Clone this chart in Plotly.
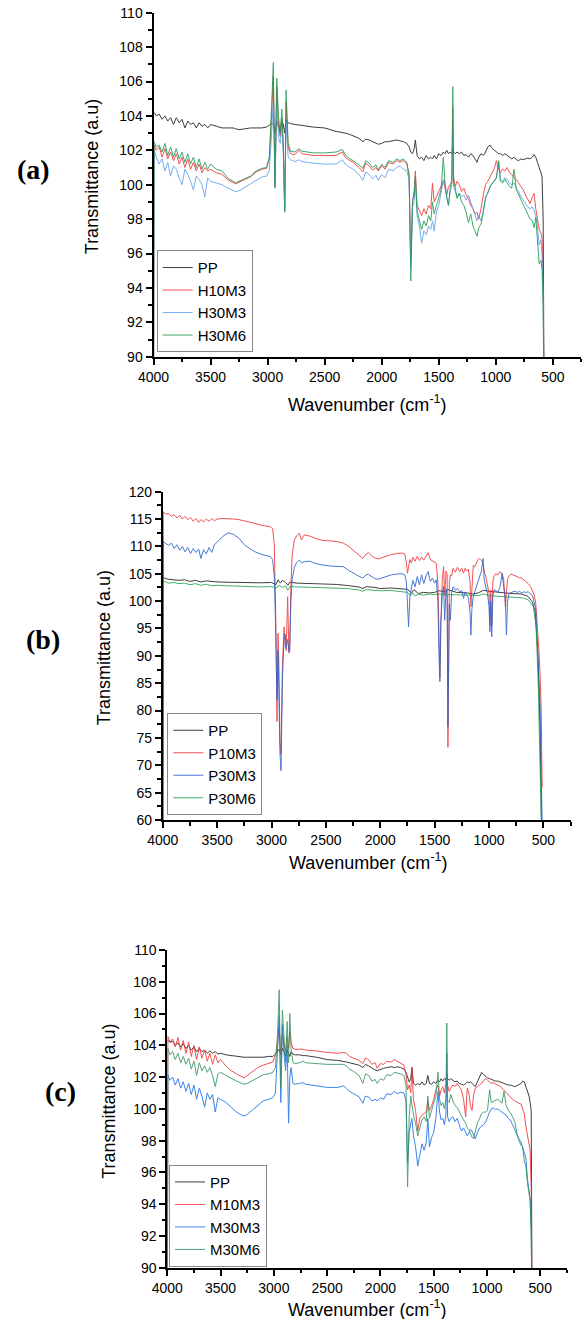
import plotly.graph_objects as go

W, H = 583, 1319

# ---------------- Panel (a) data ----------------
wn_a = [4000, 3995, 3975, 3950, 3925, 3900, 3875, 3850, 3825, 3800,
        3775, 3750, 3725, 3700, 3675, 3650, 3625, 3600, 3575, 3550,
        3525, 3500, 3450, 3400, 3350, 3300, 3280, 3250, 3200, 3150,
        3100, 3050, 3010, 2985, 2965, 2950, 2935, 2920, 2905, 2890,
        2875, 2862, 2850, 2838, 2820, 2800, 2760, 2725, 2700, 2600,
        2500, 2400, 2345, 2320, 2290, 2250, 2200, 2165, 2140, 2110,
        2080, 2050, 2030, 2000, 1970, 1940, 1900, 1870, 1840, 1810,
        1780, 1760, 1745, 1730, 1715, 1705, 1690, 1670, 1650, 1630,
        1610, 1590, 1570, 1555, 1540, 1520, 1500, 1480, 1460, 1445,
        1430, 1415, 1400, 1385, 1377, 1370, 1355, 1340, 1320, 1300,
        1280, 1260, 1240, 1220, 1200, 1180, 1165, 1150, 1130, 1110,
        1090, 1070, 1050, 1030, 1010, 995, 975, 960, 940, 920,
        900, 880, 860, 840, 820, 800, 780, 760, 740, 720,
        700, 680, 665, 650, 635, 620, 605, 595, 585, 575]

pp_a = [104.2, 104.2, 104.0, 104.1, 103.8, 104.0, 103.7, 103.9, 103.5, 103.9,
        103.6, 103.8, 103.3, 103.7, 103.5, 103.6, 103.3, 103.6, 103.4, 103.5,
        103.3, 103.5, 103.4, 103.3, 103.3, 103.3, 103.25, 103.2, 103.25, 103.3,
        103.3, 103.3, 103.35, 103.45, 103.6, 103.5, 103.0, 103.7, 103.4, 103.1,
        103.7, 103.5, 103.0, 103.8, 103.6, 103.55, 103.5, 103.45, 103.45, 103.35,
        103.3, 103.1, 103.05, 103.0, 102.95, 102.85, 102.7, 102.5, 102.65, 102.6,
        102.5, 102.4, 102.35, 102.4, 102.5, 102.5, 102.55, 102.6, 102.55, 102.5,
        102.4, 102.2, 101.9, 101.8, 102.1, 102.6, 101.7, 101.5, 101.6, 101.4,
        101.7, 101.5, 101.6, 101.5, 101.7, 101.5, 101.8, 101.7, 101.9, 101.8,
        102.0, 101.8, 101.9, 101.8, 102.3, 101.9, 101.8, 101.9, 101.8, 101.9,
        101.7, 101.75, 101.6, 101.8, 101.7, 101.5, 101.3, 101.6, 101.8, 101.7,
        101.9, 102.2, 102.3, 102.1, 102.0, 101.9, 101.8, 101.8, 101.7, 101.8,
        101.7, 101.6, 101.5, 101.6, 101.45, 101.4, 101.5, 101.45, 101.5, 101.55,
        101.5, 101.6, 101.75, 101.6, 101.3, 101.05, 100.7, 100.5, 98.0, 85]

h10m3 = [85, 102.3, 102.0, 102.2, 101.6, 102.1, 101.5, 101.9, 101.4, 101.8,
         101.2, 101.6, 101.0, 101.5, 100.9, 101.3, 100.8, 101.2, 100.7, 101.0,
         100.8, 100.9, 100.7, 100.6, 100.3, 100.1, 100.05, 100.15, 100.3, 100.45,
         100.75, 100.9, 100.95, 101.5, 104.0, 106.3, 99.9, 105.7, 103.5, 102.8,
         103.9, 102.0, 98.5, 104.8, 102.2, 101.8, 101.75, 102.0, 101.8, 101.7,
         101.7, 101.7, 101.9, 101.6, 101.45, 101.3, 101.0, 100.75, 101.25, 101.1,
         100.85, 101.0, 100.8, 101.1, 100.9, 101.3, 101.2, 101.4, 101.3, 101.4,
         101.2, 100.6, 95.6, 99.0, 99.7, 100.8, 98.8, 98.5, 98.2, 98.6,
         98.3, 98.8, 98.6, 100.1, 99.0, 99.3, 99.6, 99.9, 100.2, 99.8,
         99.4, 99.9, 100.0, 100.2, 104.5, 100.4, 99.9, 100.2, 100.0, 99.6,
         99.8, 99.4, 99.2, 98.8, 98.6, 98.3, 98.4, 98.0, 98.6, 99.4,
         100.0, 100.2, 100.5, 100.8, 101.0, 101.4, 100.9, 100.7, 100.9, 100.8,
         101.0, 100.7, 100.6, 100.4, 100.3, 100.1, 99.9, 99.7, 99.4, 99.1,
         98.9, 99.3, 99.5, 98.6, 97.9, 97.4, 97.2, 96.9, 94.0, 85]

h30m3 = [85, 102.0, 101.6, 101.2, 101.5, 100.8, 101.3, 100.5, 101.1, 100.9,
         100.4, 100.0, 100.9, 100.6, 100.2, 99.7, 100.5, 100.3, 100.0, 99.3,
         100.4, 100.2, 100.1, 100.0, 99.8, 99.65, 99.6, 99.65, 99.85, 100.05,
         100.3, 100.45, 100.5, 100.8, 103.0, 104.8, 100.1, 104.8, 102.8, 102.4,
         103.3, 101.8, 98.6, 103.8, 101.6, 101.45, 101.35, 101.45, 101.35, 101.25,
         101.2, 101.2, 101.45, 101.2, 101.05, 100.9, 100.6, 100.25, 100.75, 100.6,
         100.35, 100.55, 100.25, 100.6, 100.4, 100.9, 100.8, 101.0, 101.1, 100.9,
         100.8, 100.3, 95.2, 98.7, 99.0, 100.3, 98.2, 97.6, 96.6, 97.3,
         97.1, 97.6, 97.4, 97.9, 97.3, 98.4, 98.8, 99.6, 100.3, 100.1,
         99.2, 98.8, 99.6, 100.0, 103.0, 99.9, 99.6, 99.3, 99.5, 99.3,
         99.4, 99.1, 99.4, 99.0, 98.6, 98.2, 97.9, 98.2, 97.9, 98.5,
         99.2, 99.6, 99.9, 100.1, 100.2, 100.4, 101.3, 100.3, 100.2, 100.4,
         100.3, 100.1, 100.0, 100.1, 99.8, 99.6, 99.3, 99.1, 98.9, 98.7,
         98.6, 98.7, 98.5, 98.2, 97.5, 96.5, 96.8, 96.0, 93.5, 85]

h30m6 = [85, 102.5, 102.2, 102.3, 101.9, 102.4, 101.7, 102.2, 101.6, 102.1,
         101.5, 101.9, 101.3, 101.8, 101.2, 101.6, 101.0, 101.5, 100.9, 101.3,
         100.9, 101.2, 100.9, 100.8, 100.4, 100.2, 100.1, 100.2, 100.35, 100.5,
         100.8, 100.95, 101.0, 101.6, 104.5, 107.1, 99.8, 106.2, 104.0, 103.0,
         104.4, 102.2, 98.4, 105.5, 102.4, 101.95, 101.9, 102.1, 101.95, 101.85,
         101.85, 101.9, 102.05, 101.75, 101.55, 101.4, 101.15, 100.95, 101.4, 101.25,
         101.0, 101.15, 100.85, 101.2, 101.0, 101.4, 101.3, 101.5, 101.4, 101.5,
         101.3, 100.5, 94.4, 99.1, 99.4, 100.5, 98.5, 98.0, 97.4, 97.9,
         97.6, 98.2, 97.9, 99.0, 98.3, 98.8, 99.3, 99.7, 101.6, 100.0,
         99.3, 98.8, 99.8, 100.3, 105.7, 100.2, 99.8, 99.2, 99.5, 99.0,
         98.8, 98.4, 97.8, 98.3, 97.6, 97.2, 97.0, 97.5, 97.7, 98.4,
         99.3, 99.5, 99.9, 100.1, 100.3, 100.4, 101.4, 100.2, 100.1, 100.3,
         100.1, 99.9, 99.8, 100.9, 99.7, 99.4, 99.1, 98.8, 98.5, 98.2,
         98.0, 97.9, 97.5, 98.1, 96.8, 95.4, 95.6, 95.1, 93.0, 85]

# ---------------- Panel (b) data ----------------
wn_b = [4000, 3995, 3970, 3945, 3920, 3895, 3870, 3845, 3820, 3795,
        3770, 3745, 3720, 3695, 3670, 3650, 3625, 3600, 3575, 3550,
        3525, 3500, 3450, 3400, 3350, 3300, 3250, 3200, 3150, 3100,
        3050, 3010, 2990, 2975, 2962, 2950, 2940, 2932, 2922, 2913,
        2900, 2885, 2875, 2865, 2852, 2840, 2832, 2822, 2810, 2790,
        2770, 2745, 2725, 2700, 2650, 2600, 2530, 2450, 2400, 2340,
        2290, 2250, 2200, 2160, 2130, 2110, 2080, 2050, 2020, 1990,
        1950, 1900, 1850, 1800, 1775, 1760, 1750, 1740, 1728, 1715,
        1700, 1680, 1660, 1640, 1620, 1600, 1580, 1560, 1540, 1520,
        1500, 1485, 1470, 1460, 1452, 1443, 1430, 1418, 1408, 1395,
        1385, 1378, 1372, 1365, 1355, 1345, 1330, 1310, 1290, 1270,
        1250, 1235, 1220, 1205, 1190, 1175, 1167, 1158, 1145, 1130,
        1110, 1090, 1070, 1055, 1045, 1030, 1015, 1000, 992, 985,
        975, 965, 955, 940, 920, 900, 880, 865, 850, 840,
        830, 815, 800, 780, 760, 740, 720, 700, 680, 660,
        640, 620, 600, 585, 570, 560, 550, 540, 530, 520,
        512]

p10m3 = [60, 116.3, 115.9, 116.0, 115.5, 115.8, 115.2, 115.7, 115.0, 115.5,
         114.9, 115.3, 114.6, 115.1, 114.4, 114.9, 114.5, 115.0, 114.6, 115.1,
         114.7, 115.0, 115.1, 115.1, 115.0, 114.9, 114.7, 114.5, 114.2, 113.9,
         113.7, 113.6, 113.2, 110.5, 98.0, 78.0, 94.1, 88.0, 74.0, 72.0,
         88.0, 95.3, 92.0, 91.0, 100.8, 90.5, 91.0, 103.0, 108.5, 111.2,
         111.9, 112.4, 111.2, 112.1, 111.9, 111.5, 111.1, 111.0, 110.9, 110.6,
         110.0, 109.3, 108.5, 107.8, 108.6, 108.85, 108.3, 107.9, 107.7, 107.9,
         108.2, 108.5, 108.7, 108.8, 108.6, 107.0, 105.1, 106.5, 107.6, 107.0,
         108.0, 107.3, 108.2, 107.4, 108.0, 107.5, 108.1, 108.85, 107.6, 107.4,
         107.2, 106.9, 103.0, 92.0, 86.0, 96.0, 104.0, 106.3, 101.0, 105.5,
         104.8, 73.3, 90.0, 103.5, 104.8, 104.6, 106.0, 105.3, 106.2, 105.4,
         106.0, 105.1, 106.0, 105.5, 105.8, 103.5, 99.0, 103.0, 106.5, 106.3,
         107.3, 107.8, 107.4, 106.9, 105.5, 104.5, 103.0, 101.4, 95.5, 102.0,
         95.5, 103.5, 104.5, 105.0, 104.8, 105.4, 105.0, 104.0, 99.0, 101.5,
         104.0, 104.6, 104.9, 104.8, 104.6, 104.5, 104.3, 104.2, 103.9, 103.6,
         103.2, 102.7, 101.9, 101.2, 99.5, 97.0, 94.0, 90.5, 86.0, 80.0,
         66.0]

p30m3 = [60, 110.9, 110.5, 110.2, 110.6, 109.6, 110.3, 109.3, 110.0, 109.0,
         109.8, 108.7, 109.6, 108.9, 109.5, 107.8, 109.4, 108.6, 109.8, 108.9,
         110.3, 110.8, 111.8, 112.5, 112.2, 111.5, 110.3, 109.6, 109.0, 108.6,
         108.3, 108.1, 107.6, 104.5, 95.0, 82.0, 91.0, 82.0, 72.0, 69.0,
         86.0, 93.0, 94.0, 91.5, 93.0, 90.8, 92.5, 100.0, 104.0, 106.2,
         107.0, 107.5, 107.0, 107.2, 107.3, 106.9, 106.6, 106.4, 106.3, 106.3,
         105.6, 105.1, 104.6, 104.2, 104.8, 104.9, 104.5, 104.1, 104.0, 104.2,
         104.5, 104.8, 104.95, 105.0, 104.8, 103.5, 99.5, 95.3, 100.8, 102.0,
         103.8, 102.6, 104.5, 103.0, 104.8, 103.2, 104.6, 105.4, 103.6, 104.2,
         103.3, 103.9, 100.0, 90.0, 85.3, 96.0, 101.4, 102.7, 96.5, 102.3,
         100.5, 77.0, 88.0, 99.5, 96.5, 101.5, 102.6, 102.0, 102.3, 101.7,
         101.9, 100.5, 101.7, 101.0, 100.7, 98.0, 93.8, 98.5, 100.9, 101.8,
         103.0, 103.9, 105.5, 107.8, 104.0, 102.6, 101.5, 99.0, 94.4, 100.0,
         93.5, 101.0, 102.0, 102.0, 101.6, 102.4, 105.1, 102.5, 100.5, 93.8,
         100.0, 101.4, 101.6, 101.7, 101.8, 101.6, 101.8, 101.5, 101.7, 101.6,
         101.7, 101.3, 101.0, 99.8, 98.4, 94.0, 90.0, 84.0, 80.7, 68.0,
         60.0]

wn_b_pp = [4000, 3995, 3950, 3900, 3850, 3800, 3750, 3700, 3650, 3600,
           3550, 3500, 3400, 3300, 3100, 3000, 2960, 2940, 2920, 2900,
           2870, 2850, 2830, 2775, 2600, 2400, 2300, 2200, 2160, 2130,
           2050, 2000, 1900, 1800, 1750, 1712, 1690, 1650, 1600, 1550,
           1500, 1460, 1400, 1377, 1300, 1200, 1150, 1100, 1050, 1000,
           955, 900, 850, 800, 700, 643, 600, 575, 551, 530,
           518]
pp_b = [60, 104.3, 104.0, 103.9, 103.8, 103.9, 103.6, 103.8, 103.5, 103.7,
        103.6, 103.5, 103.45, 103.4, 103.35, 103.4, 103.0, 103.9, 103.3, 103.8,
        103.4, 102.9, 103.5, 103.3, 103.2, 103.05, 102.85, 102.6, 102.3, 102.65,
        102.5, 102.3, 102.4, 102.3, 102.15, 101.5, 102.1, 101.4, 101.6, 101.5,
        101.6, 101.9, 101.7, 102.1, 101.6, 101.5, 101.3, 101.5, 102.0, 101.8,
        101.7, 101.6, 101.5, 101.4, 101.3, 100.9, 99.8, 97.8, 90.5, 75.9,
        60]

wn_b_g = [4000, 3995, 3950, 3900, 3850, 3800, 3750, 3700, 3650, 3600,
          3550, 3500, 3400, 3300, 3100, 3000, 2960, 2930, 2900, 2870,
          2850, 2830, 2775, 2600, 2400, 2300, 2200, 2160, 2130, 2050,
          2000, 1900, 1800, 1750, 1720, 1700, 1680, 1650, 1600, 1550,
          1500, 1450, 1400, 1300, 1200, 1100, 1050, 1000, 900, 800,
          700, 643, 592, 567, 547, 520]
p30m6 = [60, 103.7, 103.3, 103.4, 103.2, 103.3, 103.0, 103.2, 102.9, 103.1,
         102.8, 102.9, 102.8, 102.7, 102.6, 102.65, 102.4, 102.9, 102.5, 102.8,
         102.0, 102.7, 102.6, 102.5, 102.45, 102.3, 102.05, 101.8, 102.1, 102.0,
         101.9, 101.95, 101.8, 101.6, 101.0, 101.5, 100.9, 101.3, 101.1, 101.3,
         101.2, 101.3, 101.2, 101.2, 101.1, 101.0, 101.3, 101.0, 100.9, 100.8,
         100.6, 100.3, 99.0, 95.3, 84.4, 60]

# ---------------- Panel (c) data ----------------
wn_c = [4000, 3995, 3975, 3950, 3925, 3900, 3875, 3850, 3825, 3800,
        3775, 3750, 3725, 3700, 3675, 3650, 3625, 3600, 3575, 3550,
        3525, 3500, 3450, 3400, 3350, 3300, 3280, 3250, 3200, 3150,
        3100, 3050, 3010, 2985, 2965, 2950, 2935, 2920, 2905, 2890,
        2875, 2862, 2850, 2838, 2820, 2800, 2760, 2725, 2700, 2600,
        2500, 2400, 2345, 2320, 2290, 2250, 2200, 2165, 2140, 2110,
        2080, 2050, 2030, 2000, 1970, 1940, 1900, 1870, 1840, 1810,
        1780, 1760, 1745, 1730, 1715, 1705, 1690, 1670, 1650, 1630,
        1610, 1590, 1570, 1555, 1540, 1520, 1500, 1480, 1460, 1445,
        1430, 1415, 1400, 1385, 1377, 1370, 1355, 1340, 1320, 1300,
        1280, 1260, 1240, 1220, 1200, 1185, 1170, 1155, 1140, 1125,
        1110, 1090, 1070, 1050, 1030, 1010, 995, 975, 960, 940,
        920, 900, 880, 860, 840, 820, 800, 780, 760, 740,
        720, 700, 680, 665, 650, 635, 620, 605, 595, 585,
        575]

pp_c = [104.3, 104.3, 104.2, 104.25, 104.0, 104.15, 103.9, 104.1, 103.8, 104.0,
        103.7, 103.9, 103.6, 103.8, 103.6, 103.7, 103.5, 103.65, 103.5, 103.6,
        103.45, 103.5, 103.4, 103.35, 103.3, 103.25, 103.25, 103.25, 103.25, 103.25,
        103.25, 103.3, 103.3, 103.45, 103.6, 103.75, 103.4, 103.8, 103.6, 103.3,
        103.7, 103.5, 103.3, 103.6, 103.45, 103.4, 103.4, 103.35, 103.35, 103.25,
        103.1, 103.05, 103.0, 102.95, 102.9, 102.85, 102.75, 102.6, 102.8, 102.7,
        102.55, 102.45, 102.4, 102.5, 102.55, 102.6, 102.65, 102.6, 102.65, 102.6,
        102.5, 102.3, 102.0, 101.7, 101.9, 102.6, 101.6, 101.5, 101.6, 101.5,
        101.7, 101.5, 101.6, 102.1, 101.6, 101.55, 101.7, 101.6, 101.8, 101.7,
        101.9, 101.75, 101.9, 101.85, 102.0, 101.9, 101.8, 101.9, 101.8, 101.7,
        101.75, 101.6, 101.55, 101.5, 101.6, 101.7, 101.65, 101.7, 101.6, 101.5,
        101.4, 101.7, 102.0, 102.3, 102.15, 102.0, 101.95, 101.9, 101.85, 101.8,
        101.75, 101.75, 101.7, 101.65, 101.6, 101.55, 101.5, 101.5, 101.45, 101.4,
        101.45, 101.5, 101.6, 101.75, 101.7, 101.4, 101.1, 100.8, 100.4, 99.9,
        85]

m10m3 = [85, 104.55, 104.2, 104.4, 103.9, 104.5, 103.7, 104.3, 103.5, 104.2,
         103.3, 104.0, 103.1, 103.9, 103.2, 103.7, 103.0, 103.5, 102.8, 103.4,
         102.9, 103.1, 102.7, 102.4, 102.2, 102.0, 101.95, 102.1, 102.35, 102.6,
         102.75, 102.85, 102.95, 103.4, 104.2, 105.1, 103.5, 104.7, 104.0, 103.6,
         104.5, 103.8, 104.9, 104.2, 103.8, 103.75, 103.75, 103.75, 103.7, 103.65,
         103.55, 103.5, 103.55, 103.5, 103.3, 103.2, 103.05, 102.85, 103.2, 103.1,
         102.8, 102.9, 102.55, 102.85, 102.8, 103.0, 102.95, 103.1, 103.0, 102.9,
         102.75, 102.2, 101.2, 101.5, 101.0, 102.6, 100.6, 99.9, 98.6, 99.4,
         99.6, 99.7, 99.8, 100.5, 99.9, 100.2, 100.6, 101.2, 101.5, 100.8,
         101.2, 101.4, 101.0, 101.6, 102.2, 101.5, 101.1, 101.3, 101.5, 101.4,
         101.6, 101.4, 101.2, 100.6, 99.5, 101.3, 101.0, 100.2, 99.9, 100.9,
         101.3, 101.4, 101.5, 101.6, 101.8, 101.9, 101.8, 101.7, 101.6, 101.65,
         101.55, 101.5, 101.45, 101.3, 101.2, 101.0, 100.9, 100.75, 100.6, 100.5,
         100.4, 100.35, 100.3, 100.0, 99.7, 98.9, 98.4, 97.9, 97.4, 95.0,
         85]

m30m3 = [85, 102.15, 101.8, 102.0, 101.5, 101.9, 101.3, 101.7, 101.1, 101.6,
         100.9, 101.5, 100.6, 101.3, 100.8, 100.1, 101.0, 100.6, 100.9, 99.8,
         100.7, 100.6, 100.4, 100.1, 99.8, 99.6, 99.55, 99.65, 99.95, 100.2,
         100.5, 100.6, 100.7, 101.0, 103.5, 105.9, 100.4, 105.3, 103.5, 102.4,
         104.0, 99.1, 102.0, 102.6, 101.6, 101.55, 101.6, 101.65, 101.55, 101.45,
         101.35, 101.35, 101.45, 101.3, 101.1, 100.95, 100.75, 100.35, 100.8, 100.75,
         100.5, 100.6, 100.5, 100.7, 100.6, 100.95, 100.9, 101.1, 100.95, 101.05,
         101.0, 100.5, 96.6, 98.5, 99.1, 99.4, 98.3, 97.6, 96.4, 97.1,
         97.8, 97.4, 97.9, 99.4, 97.6, 98.2, 98.5, 99.4, 101.1, 99.8,
         99.3, 99.4, 99.0, 99.6, 103.5, 99.5, 99.2, 99.4, 99.5, 99.2,
         99.4, 99.0, 98.6, 98.8, 98.5, 98.3, 98.5, 98.7, 98.6, 98.3,
         98.1, 98.5, 98.8, 98.9, 99.0, 99.2, 99.5, 99.8, 100.0, 100.05,
         99.95, 100.0, 99.9, 99.8, 99.65, 99.6, 99.4, 99.3, 99.0, 98.7,
         98.3, 98.1, 97.9, 97.6, 97.2, 96.9, 95.6, 94.7, 94.3, 92.5,
         85]

m30m6 = [85, 103.8, 103.4, 103.6, 103.1, 103.5, 102.9, 103.3, 102.8, 103.2,
         102.5, 103.0, 102.1, 102.9, 102.4, 102.7, 102.3, 102.6, 102.1, 101.4,
         102.2, 102.3, 102.1, 101.9, 101.75, 101.6, 101.55, 101.6, 101.8, 102.0,
         102.15, 102.2, 102.3, 102.6, 104.8, 107.5, 101.3, 106.2, 104.4, 102.9,
         105.5, 102.9, 106.0, 103.8, 102.9, 102.85, 102.9, 103.0, 102.9, 102.85,
         102.8, 102.8, 102.8, 102.7, 102.5, 102.35, 102.1, 101.6, 102.2, 102.1,
         101.75, 101.85, 101.6, 101.9, 101.8, 102.15, 102.1, 102.3, 102.25, 102.2,
         102.1, 101.5, 95.1, 99.5, 100.8, 100.2, 99.6, 99.1, 98.3, 98.8,
         99.3, 99.5, 99.2, 100.8, 99.4, 99.9, 100.3, 100.8, 102.3, 100.6,
         100.2, 100.4, 100.0, 100.6, 105.4, 100.5, 100.4, 100.9, 100.5, 100.2,
         100.1, 99.8, 99.5, 99.3, 99.1, 98.8, 98.7, 98.4, 98.2, 98.15,
         98.6, 99.1, 99.4, 99.7, 99.8, 99.8, 99.9, 101.2, 100.4, 100.45,
         100.5, 100.6, 100.5, 100.35, 101.1, 100.2, 99.9, 99.75, 99.5, 99.2,
         98.5, 98.0, 97.7, 97.6, 96.7, 96.4, 95.3, 94.6, 94.26, 92.0,
         85]

x_ticks = [4000, 3500, 3000, 2500, 2000, 1500, 1000, 500]

# ---------------- Figure ----------------
GRAY = "#3f3f3f"
RED = "#ef3535"
FONT = "Liberation Sans, Arial, sans-serif"

fig = go.Figure()

def add(x, y, name, color, xa, ya, leg, op=0.85):
    fig.add_trace(go.Scatter(x=x, y=y, name=name, mode="lines",
                             line=dict(color=color, width=1), opacity=op,
                             xaxis=xa, yaxis=ya, legend=leg))

add(wn_a, pp_a, "PP", GRAY, "x", "y", "legend", 1.0)
add(wn_a, h10m3, "H10M3", RED, "x", "y", "legend")
add(wn_a, h30m3, "H30M3", "#5f9ff0", "x", "y", "legend")
add(wn_a, h30m6, "H30M6", "#1e9a52", "x", "y", "legend")

add(wn_b_pp, pp_b, "PP", GRAY, "x2", "y2", "legend2", 1.0)
add(wn_b, p10m3, "P10M3", RED, "x2", "y2", "legend2")
add(wn_b, p30m3, "P30M3", "#2a62cc", "x2", "y2", "legend2")
add(wn_b_g, p30m6, "P30M6", "#22a356", "x2", "y2", "legend2")

add(wn_c, pp_c, "PP", GRAY, "x3", "y3", "legend3", 1.0)
add(wn_c, m10m3, "M10M3", RED, "x3", "y3", "legend3")
add(wn_c, m30m3, "M30M3", "#1a6fe6", "x3", "y3", "legend3")
add(wn_c, m30m6, "M30M6", "#34935e", "x3", "y3", "legend3")

def px(v):
    return v / W

def py(v):
    return 1 - v / H

def xax(dom, anchor):
    return dict(domain=dom, anchor=anchor, range=[4000, 250], automargin=False,
                tickmode="array", tickvals=x_ticks,
                showline=True, linecolor="black", linewidth=2,
                ticks="outside", ticklen=6, tickwidth=1.5, tickcolor="black",
                minor=dict(ticks="outside", ticklen=3.5, tickwidth=1.5,
                           tickcolor="black", dtick=250, tick0=0, showgrid=False),
                showgrid=False, zeroline=False,
                tickfont=dict(size=14, color="black", family=FONT))

def yax(dom, anchor, rng, dt):
    return dict(domain=dom, anchor=anchor, range=rng, dtick=dt, tick0=0,
                automargin=False,
                showline=True, linecolor="black", linewidth=2,
                ticks="outside", ticklen=6, tickwidth=1.5, tickcolor="black",
                minor=dict(ticks="outside", ticklen=3.5, tickwidth=1.5,
                           tickcolor="black", dtick=dt / 2, showgrid=False),
                showgrid=False, zeroline=False,
                tickfont=dict(size=14, color="black", family=FONT))

def legend(xp, yp):
    return dict(x=px(xp), y=py(yp), xanchor="left", yanchor="bottom",
                bgcolor="white", bordercolor="#8a8a8a", borderwidth=1,
                font=dict(size=15, color="black", family=FONT),
                tracegroupgap=0, itemwidth=30)

fig.update_layout(
    width=W, height=H,
    margin=dict(l=0, r=0, t=0, b=0, pad=0, autoexpand=False),
    paper_bgcolor="white", plot_bgcolor="white",
    showlegend=True,
    xaxis=xax([px(153.5), px(581.4)], "y"),
    yaxis=yax([py(356.7), py(12.7)], "x", [90, 110], 2),
    xaxis2=xax([px(162.8), px(570.6)], "y2"),
    yaxis2=yax([py(820), py(491.7)], "x2", [60, 120], 5),
    xaxis3=xax([px(167.3), px(566.9)], "y3"),
    yaxis3=yax([py(1267.7), py(950)], "x3", [90, 110], 2),
    legend=legend(156.7, 352.3),
    legend2=legend(167.3, 815.0),
    legend3=legend(169.0, 1266.7),
)

annots = [
    ("<b>(a)</b>", 33.5, 170, 0, 28, "Liberation Serif, Times New Roman, serif"),
    ("<b>(b)</b>", 43.0, 640, 0, 28, "Liberation Serif, Times New Roman, serif"),
    ("<b>(c)</b>", 60.0, 1091.7, 0, 28, "Liberation Serif, Times New Roman, serif"),
    ("Transmittance (a.u)", 92.2, 177, -90, 18, FONT),
    ("Transmittance (a.u)", 104.0, 648.3, -90, 18, FONT),
    ("Transmittance (a.u)", 109.0, 1101.8, -90, 18, FONT),
    ("Wavenumber (cm<sup>-1</sup>)", 367.7, 403, 0, 18, FONT),
    ("Wavenumber (cm<sup>-1</sup>)", 368.0, 861, 0, 18, FONT),
    ("Wavenumber (cm<sup>-1</sup>)", 367.0, 1308, 0, 18, FONT),
]
for text, x, y, ang, size, fam in annots:
    fig.add_annotation(text=text, x=px(x), y=py(y), xref="paper", yref="paper",
                       xanchor="center", yanchor="middle", showarrow=False,
                       textangle=ang, font=dict(size=size, color="black", family=fam))

# remove the browser's default 8px body margin so the figure fills the window
fig.write_html("out.html", config={"displayModeBar": False},
               post_script="document.body.style.margin='0px';")
